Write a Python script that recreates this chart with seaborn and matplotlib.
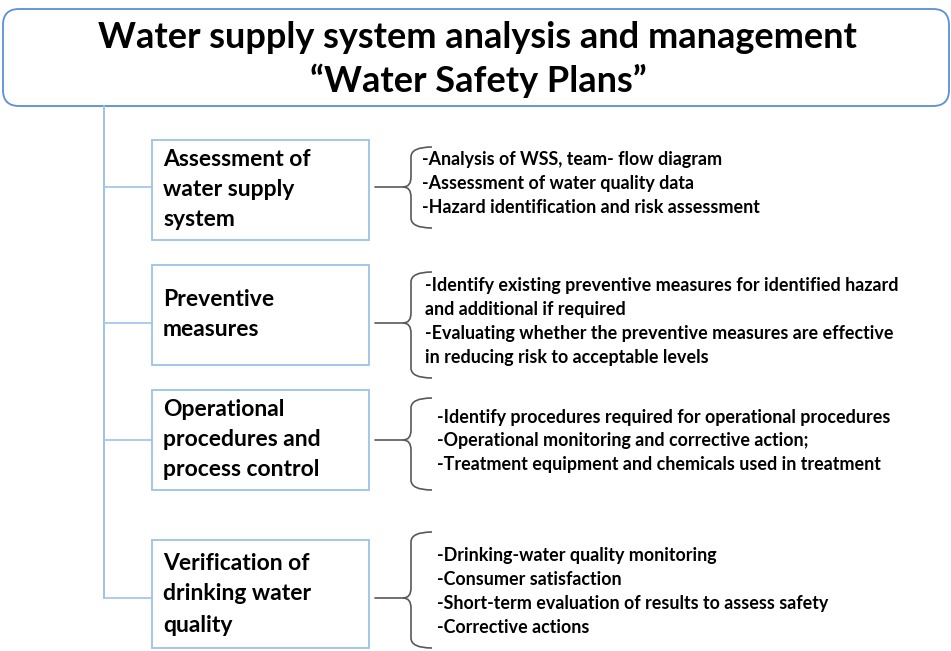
import matplotlib
matplotlib.use("Agg")
import matplotlib.pyplot as plt
import matplotlib.patches as mpatches
from matplotlib.path import Path
import seaborn as sns
import pandas as pd

# Тексты диаграммы
title_lines = ["Water supply system analysis and management",
               "\u201cWater Safety Plans\u201d"]

stages = [
    ["Assessment of", "water supply", "system"],
    ["Preventive", "measures"],
    ["Operational", "procedures and", "process control"],
    ["Verification of", "drinking water", "quality"],
]

details = [
    ["-Analysis of WSS, team- flow diagram",
     "-Assessment of water quality data",
     "-Hazard identification and risk assessment"],
    ["-Identify existing preventive measures for identified hazard",
     "and additional if required",
     "-Evaluating whether the preventive measures are effective",
     "in reducing risk to acceptable levels"],
    ["-Identify procedures required for operational procedures",
     "-Operational monitoring and corrective action;",
     "-Treatment equipment and chemicals used in treatment"],
    ["-Drinking-water quality monitoring",
     "-Consumer satisfaction",
     "-Short-term evaluation of results to assess safety",
     "-Corrective actions"],
]

# Геометрия (в пикселях)
box_top = [140, 265, 390, 540]
box_bottom = [240, 365, 490, 648]
stage_line_y = [[160, 190, 220], [300, 330], [410, 440, 470], [563, 594, 625]]
brace_top = [147, 272, 398, 532]
brace_bottom = [228, 378, 490, 648]
brace_mid = [187, 323, 440, 598]
detail_x = [422, 425, 437, 437]
detail_y0 = [160, 286, 417, 556]
detail_step = 23.7

sns.set_theme(style="white")
plt.rcParams['font.family'] = ['Lato', 'DejaVu Sans']

fig = plt.figure(figsize=(9.51, 6.51), dpi=100)
ax = fig.add_axes([0, 0, 1, 1])
ax.set_xlim(0, 951)
ax.set_ylim(651, 0)
ax.axis("off")

blue = "#5b8fd6"
light_blue = "#9dc3e6"

# Заголовок
title_box = mpatches.FancyBboxPatch((3, 9), 946, 97,
                                    boxstyle="round,pad=0,rounding_size=16",
                                    fc="white", ec=blue, lw=1.3)
ax.add_patch(title_box)
ax.text(477, 37, title_lines[0], ha="center", va="center",
        fontsize=26, fontweight="bold", color="black")
ax.text(478, 81, title_lines[1], ha="center", va="center",
        fontsize=26, fontweight="bold", color="black")

# Соединительные линии дерева
tree = pd.DataFrame({"x": [104, 104], "y": [106, 598]})
sns.lineplot(data=tree, x="x", y="y", ax=ax, color=light_blue, lw=1.4,
             sort=False, estimator=None)
for my in brace_mid:
    seg = pd.DataFrame({"x": [104, 152], "y": [my, my]})
    sns.lineplot(data=seg, x="x", y="y", ax=ax, color=light_blue, lw=1.2,
                 sort=False, estimator=None)


def draw_brace(ax, top, bottom, mid, x_point=403, x_spine=411, x_tip=432):
    r = 10
    verts = [
        (x_tip, top), (x_spine, top), (x_spine, top + r),
        (x_spine, mid - r),
        (x_spine, mid), (x_point, mid),
        (x_spine, mid), (x_spine, mid + r),
        (x_spine, bottom - r),
        (x_spine, bottom), (x_tip, bottom),
    ]
    codes = [Path.MOVETO, Path.CURVE3, Path.CURVE3, Path.LINETO,
             Path.CURVE3, Path.CURVE3, Path.CURVE3, Path.CURVE3,
             Path.LINETO, Path.CURVE3, Path.CURVE3]
    ax.add_patch(mpatches.PathPatch(Path(verts, codes), fc="none",
                                    ec="#595959", lw=1.2))
    ax.plot([375, x_point], [mid, mid], color="#595959", lw=1.2)


for i, lines in enumerate(stages):
    ax.add_patch(mpatches.Rectangle((152, box_top[i]), 217,
                                    box_bottom[i] - box_top[i],
                                    fc="white", ec=light_blue, lw=1.3))
    for line, ly in zip(lines, stage_line_y[i]):
        ax.text(163, ly, line, ha="left", va="center", fontsize=16.5,
                fontweight="bold", color="black")
    draw_brace(ax, brace_top[i], brace_bottom[i], brace_mid[i])
    for k, line in enumerate(details[i]):
        ax.text(detail_x[i], detail_y0[i] + k * detail_step, line,
                ha="left", va="center", fontsize=12.9, fontweight="bold",
                color="black")

fig.savefig("out.png", dpi=100)
